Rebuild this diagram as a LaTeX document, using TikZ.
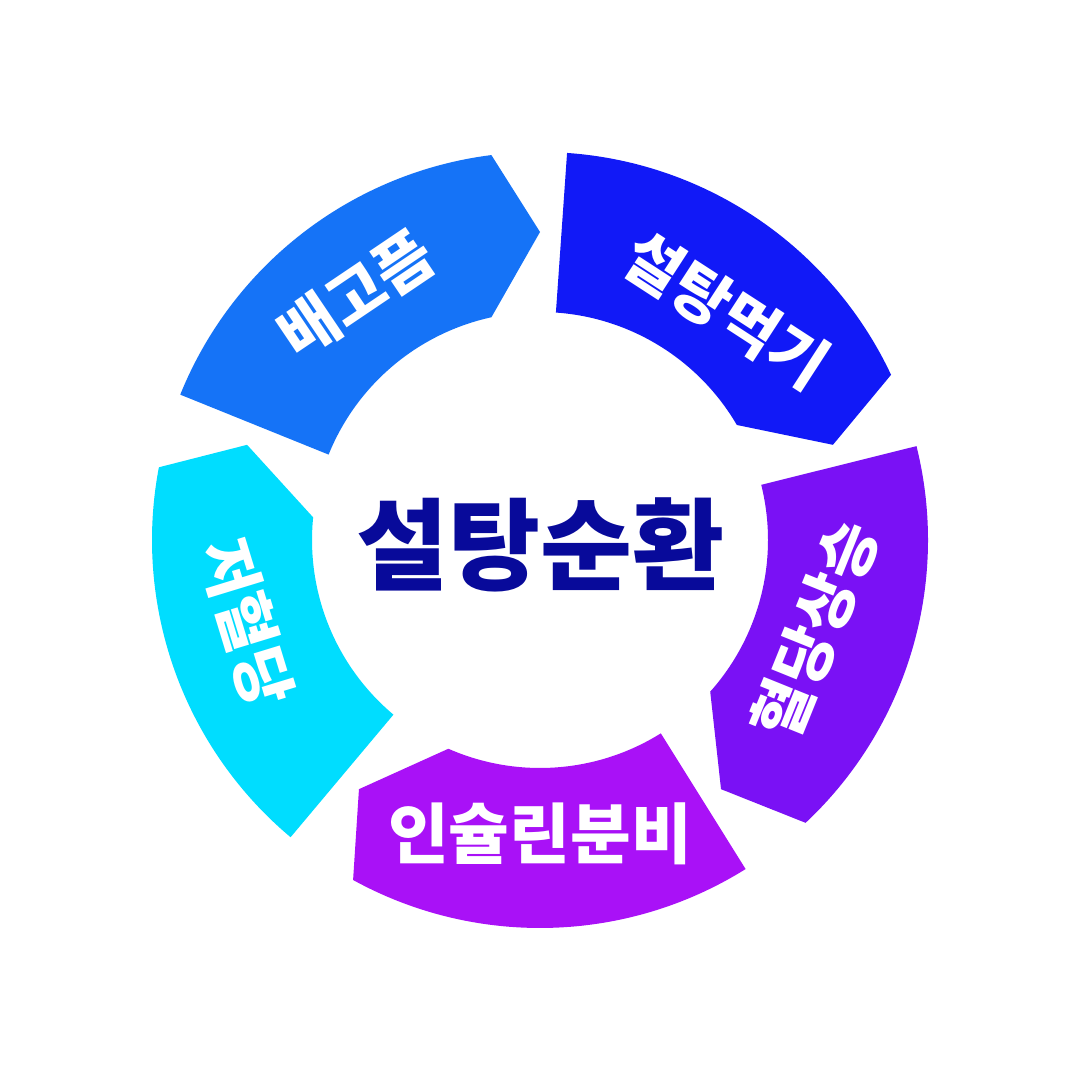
\documentclass[tikz,border=0pt]{standalone}
\usepackage{fontspec}
\setmainfont{Noto Sans CJK KR}
\definecolor{cA}{HTML}{1573F7}
\definecolor{cB}{HTML}{1119F7}
\definecolor{cC}{HTML}{7A11F5}
\definecolor{cD}{HTML}{A911F7}
\definecolor{cE}{HTML}{00DDFF}
\definecolor{cT}{HTML}{080A9A}
\tikzset{
  seglabel/.style={text=white, font=\bfseries\fontsize{62}{64}\selectfont, inner sep=0pt},
  titlelabel/.style={text=cT, font=\bfseries\fontsize{100}{104}\selectfont, inner sep=0pt}
}
\begin{document}
\begin{tikzpicture}[x=1pt,y=1pt]
\useasboundingbox (0,0) rectangle (1080,1080);
\fill[white] (0,0) rectangle (1080,1080);
\foreach \k/\col in {0/cA,1/cB,2/cC,3/cD,4/cE} {
  \pgfmathsetmacro\ta{158-72*\k}
  \pgfmathsetmacro\pa{90-72*\k}
  \pgfmathsetmacro\oa{\pa+7.2}
  \pgfmathsetmacro\ia{\pa+12.3}
  \fill[\col, shift={(540,540)}] (\ta:388) arc[start angle=\ta, end angle=\oa, radius=388]
     -- (\pa:308) -- (\ia:228) arc[start angle=\ia, end angle=\ta, radius=228] -- cycle;
}
\node[titlelabel] (title) at (540,535) {설탕순환};
\node[seglabel, rotate=34] (t1) at (356,786) {배고픔};
\node[seglabel, rotate=-33] (t2) at (726,770) {설탕먹기};
\node[seglabel, rotate=68] (t3) at (815,450) {혈당상승};
\node[seglabel, font=\bfseries\fontsize{66}{68}\selectfont] (t4) at (540,246) {인슐린분비};
\node[seglabel, rotate=-73] (t5) at (247,458) {저혈당};
\end{tikzpicture}
\end{document}
